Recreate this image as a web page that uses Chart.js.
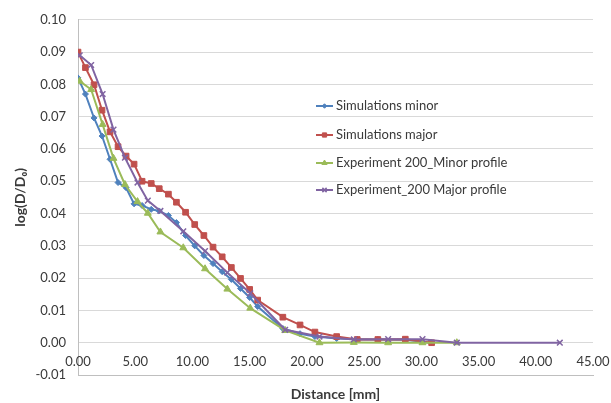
<!DOCTYPE html>
<html>
<head>
<meta charset="utf-8">
<script src="https://cdn.jsdelivr.net/npm/chart.js@4.4.1/dist/chart.umd.min.js"></script>
<style>
  html, body { margin: 0; padding: 0; background: #fff; }
  #wrap { width: 611px; height: 403px; }
</style>
</head>
<body>
<div id="wrap"><canvas id="chart" width="611" height="403"></canvas></div>
<script>
// Distancias (mm) de las simulaciones
const simDistance = [0, 0.65, 1.4, 2.1, 2.8, 3.5, 4.2, 4.9, 5.6, 6.4, 7.1, 7.9, 8.6, 9.4, 10.2,
    11.0, 11.8, 12.6, 13.4, 14.2, 15.0, 15.7, 17.9, 19.4, 20.7, 22.6, 24.4, 26.2, 28.6, 30.9];
const simMinor = [0.082, 0.077, 0.0696, 0.064, 0.0568, 0.0496, 0.048, 0.043, 0.0425, 0.0413, 0.0408,
    0.0394, 0.0372, 0.0332, 0.030, 0.027, 0.0245, 0.022, 0.0196, 0.0168, 0.0140, 0.0112, 0.0044,
    0.0028, 0.0019, 0.0013, 0.0011, 0.0010, 0.0009, 0.0];
const simMajor = [0.090, 0.0852, 0.0799, 0.072, 0.0653, 0.0607, 0.0578, 0.0553, 0.050, 0.0493, 0.0477,
    0.046, 0.0435, 0.0404, 0.0366, 0.0332, 0.0296, 0.0266, 0.0233, 0.0199, 0.0165, 0.0132, 0.0079,
    0.0055, 0.0033, 0.0019, 0.0010, 0.0010, 0.0011, 0.0];

// Distancias (mm) de los experimentos
const expDistance = [0.15, 1.15, 2.15, 3.1, 4.1, 5.2, 6.1, 7.2, 9.2, 11.1, 13.05, 15.05, 18.1, 21.1,
    24.1, 27.1, 30.1, 33.1, 42.1];
const expMinor = [0.081, 0.0784, 0.0676, 0.0571, 0.049, 0.0437, 0.0401, 0.0343, 0.0294, 0.0229, 0.0166,
    0.0107, 0.0038, 0.0, 0.0001, 0.0, 0.0, 0.0];
const expMajor = [0.089, 0.086, 0.077, 0.066, 0.0573, 0.0496, 0.044, 0.0408, 0.0345, 0.0284, 0.0217,
    0.0153, 0.0040, 0.0019, 0.0010, 0.0011, 0.0011, 0.0, 0.0];

const seriesNames = ['Simulations minor', 'Simulations major', 'Experiment 200_Minor profile', 'Experiment_200 Major profile'];

const toPoints = (xs, ys) => ys.map((y, i) => ({ x: xs[i], y: y }));

const FONT = 'Lato, "DejaVu Sans", sans-serif';
const TEXT = '#3a3a3a';

// Leyenda dentro del área del gráfico
const innerLegend = {
    id: 'innerLegend',
    afterDatasetsDraw(chart) {
        const ctx = chart.ctx;
        const x0 = 316, x1 = 333;
        const rows = [106, 135, 163, 190];
        ctx.save();
        chart.data.datasets.forEach((ds, i) => {
            const y = rows[i];
            ctx.strokeStyle = ds.borderColor;
            ctx.lineWidth = 2;
            ctx.beginPath();
            ctx.moveTo(x0, y);
            ctx.lineTo(x1, y);
            ctx.stroke();
            ctx.fillStyle = ds.pointBackgroundColor;
            ctx.strokeStyle = ds.pointBorderColor;
            ctx.lineWidth = ds.pointBorderWidth;
            Chart.helpers.drawPoint(ctx, {
                pointStyle: ds.pointStyle,
                radius: ds.pointRadius * 0.75,
                borderWidth: ds.pointBorderWidth,
                rotation: 0
            }, (x0 + x1) / 2, y);
            ctx.fillStyle = TEXT;
            ctx.font = '13px ' + FONT;
            ctx.textBaseline = 'middle';
            ctx.textAlign = 'left';
            ctx.fillText(ds.label, 336, y);
        });
        ctx.restore();
    }
};

// Etiquetas del eje X: van por encima de la línea del eje, como en Excel
const xTickLabels = {
    id: 'xTickLabels',
    afterDraw(chart) {
        const scale = chart.scales.x;
        const ctx = chart.ctx;
        ctx.save();
        ctx.fillStyle = TEXT;
        ctx.font = '13px ' + FONT;
        ctx.textAlign = 'center';
        ctx.textBaseline = 'middle';
        scale.ticks.forEach((t) => {
            ctx.fillText(t.value.toFixed(2), scale.getPixelForValue(t.value), chart.chartArea.bottom - 13);
        });
        ctx.restore();
    }
};

new Chart(document.getElementById('chart'), {
    type: 'line',
    data: {
        datasets: [
            {
                label: seriesNames[0],
                data: toPoints(simDistance, simMinor),
                borderColor: '#4F81BD',
                pointBackgroundColor: '#4F81BD',
                pointBorderColor: '#4F81BD',
                pointStyle: 'rectRot',
                pointRadius: 3,
                pointBorderWidth: 1,
                borderWidth: 2,
                order: 4
            },
            {
                label: seriesNames[1],
                data: toPoints(simDistance, simMajor),
                borderColor: '#C0504D',
                pointBackgroundColor: '#C0504D',
                pointBorderColor: '#C0504D',
                pointStyle: 'rect',
                pointRadius: 4,
                pointBorderWidth: 1,
                borderWidth: 2,
                order: 3
            },
            {
                label: seriesNames[2],
                data: toPoints(expDistance, expMinor),
                borderColor: '#9BBB59',
                pointBackgroundColor: '#9BBB59',
                pointBorderColor: '#9BBB59',
                pointStyle: 'triangle',
                pointRadius: 4,
                pointBorderWidth: 1,
                borderWidth: 2,
                order: 2
            },
            {
                label: seriesNames[3],
                data: toPoints(expDistance, expMajor),
                borderColor: '#8064A2',
                pointBackgroundColor: '#8064A2',
                pointBorderColor: '#8064A2',
                pointStyle: 'crossRot',
                pointRadius: 4,
                pointBorderWidth: 1.5,
                borderWidth: 2,
                order: 1
            }
        ]
    },
    options: {
        responsive: false,
        animation: false,
        layout: { padding: { left: 0, right: 18, top: 18, bottom: 0 } },
        plugins: {
            legend: { display: false },
            tooltip: { enabled: false }
        },
        scales: {
            x: {
                type: 'linear',
                min: 0,
                max: 45,
                afterFit: (scale) => { scale.height = 28; },
                ticks: {
                    stepSize: 5,
                    display: false
                },
                grid: { display: false, drawTicks: false },
                border: { display: true, color: '#bfbfbf', width: 1 },
                title: {
                    display: true,
                    text: 'Distance [mm]',
                    color: TEXT,
                    font: { family: FONT, size: 14, weight: 'bold' },
                    padding: { top: 0, bottom: 0 }
                }
            },
            y: {
                min: -0.01,
                max: 0.10,
                afterFit: (scale) => { scale.width = 78; },
                ticks: {
                    stepSize: 0.01,
                    padding: 12,
                    color: TEXT,
                    font: { family: FONT, size: 13 },
                    callback: (v) => v.toFixed(2)
                },
                grid: { color: '#d9d9d9', lineWidth: 1, drawTicks: false },
                border: { display: true, color: '#bfbfbf', width: 1 },
                title: {
                    display: true,
                    text: 'log(D/D₀)',
                    color: TEXT,
                    font: { family: FONT, size: 14, weight: 'bold' },
                    padding: { top: 12, bottom: 0 }
                }
            }
        }
    },
    plugins: [innerLegend, xTickLabels]
});
</script>
</body>
</html>
